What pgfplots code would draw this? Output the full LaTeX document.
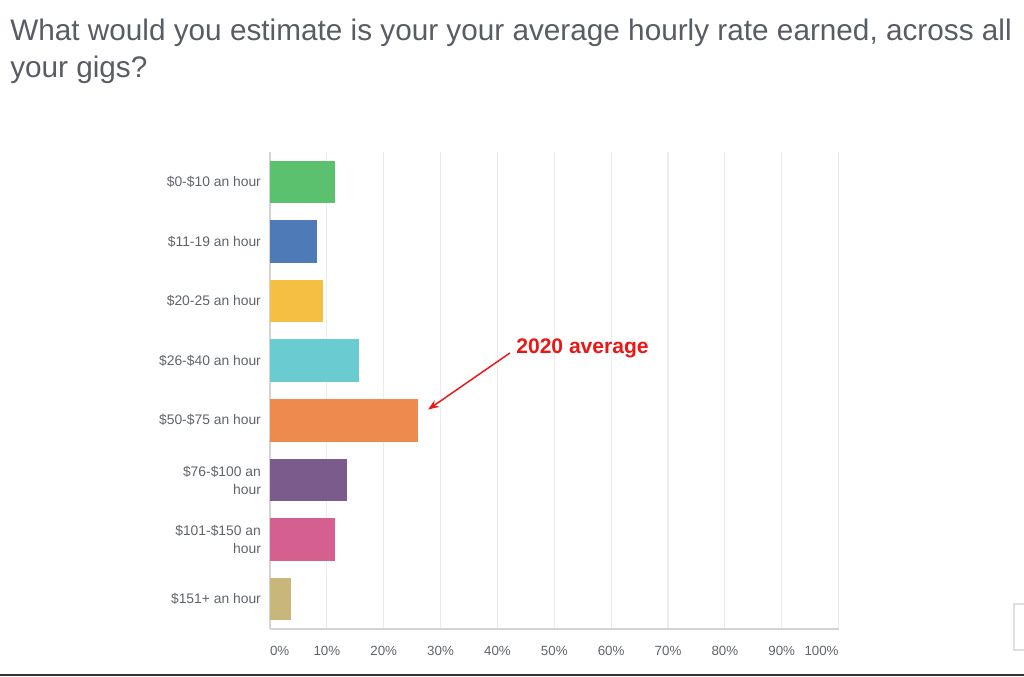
\documentclass[border=0pt]{standalone}
\usepackage{fontspec}
\setmainfont{Liberation Sans}
\usepackage{pgfplots}
\pgfplotsset{compat=1.18}
\usetikzlibrary{arrows.meta}
\definecolor{titlegray}{RGB}{88,93,100}
\definecolor{labgray}{RGB}{95,100,106}
\definecolor{gridgray}{RGB}{236,236,236}
\definecolor{axgray}{RGB}{212,212,212}
\definecolor{cgreen}{RGB}{92,193,110}
\definecolor{cblue}{RGB}{78,122,184}
\definecolor{cyellow}{RGB}{244,191,66}
\definecolor{cteal}{RGB}{106,204,208}
\definecolor{corange}{RGB}{239,138,78}
\definecolor{cpurple}{RGB}{123,90,140}
\definecolor{cpink}{RGB}{213,95,142}
\definecolor{ctan}{RGB}{200,183,122}
\definecolor{annred}{RGB}{236,22,22}
\begin{document}
\begin{tikzpicture}[x=0.75pt,y=-0.75pt]
\path[use as bounding box] (0,0) rectangle (1024,677);
\node[anchor=base west, inner sep=0, text=titlegray, font=\fontsize{22.3}{26}\selectfont] at (10,41) {What would you estimate is your your average hourly rate earned, across all};
\node[anchor=base west, inner sep=0, text=titlegray, font=\fontsize{22.3}{26}\selectfont] at (10,78) {your gigs?};
\begin{axis}[
  at={(202.5pt,-471.75pt)}, anchor=south west,
  scale only axis, width=426.45pt, height=357.75pt,
  xbar, bar shift=0pt, bar width=31.9pt,
  xmin=0, xmax=100, ymin=-0.5, ymax=7.5, y dir=reverse,
  xtick={0,10,...,100},
  xticklabels={\makebox[0pt][l]{0\%},10\%,20\%,30\%,40\%,50\%,60\%,70\%,80\%,90\%,\makebox[0pt][r]{100\%}},
  ytick={0,...,7},
  yticklabels={{\$0-\$10 an hour},{\$11-19 an hour},{\$20-25 an hour},{\$26-\$40 an hour},{\$50-\$75 an hour},{\$76-\$100 an\\hour},{\$101-\$150 an\\hour},{\$151+ an hour}},
  yticklabel style={align=right, xshift=-3.3pt, text=labgray, font=\fontsize{10.4}{13.5}\selectfont},
  xticklabel style={yshift=-9.5pt, text=labgray, font=\fontsize{10}{12}\selectfont},
  major tick length=0pt,
  xmajorgrids, grid style={gridgray, line width=0.8pt},
  axis x line*=bottom, axis y line*=left,
  axis line style={axgray, line width=0.9pt, -},
  every axis plot/.append style={draw=none},
]
\addplot[fill=cgreen] coordinates {(11.4,0)};
\addplot[fill=cblue] coordinates {(8.3,1)};
\addplot[fill=cyellow] coordinates {(9.3,2)};
\addplot[fill=cteal] coordinates {(15.6,3)};
\addplot[fill=corange] coordinates {(26.1,4)};
\addplot[fill=cpurple] coordinates {(13.5,5)};
\addplot[fill=cpink] coordinates {(11.4,6)};
\addplot[fill=ctan] coordinates {(3.7,7)};
\node[anchor=base, text=annred, font=\bfseries\fontsize{15.8}{17}\selectfont] at (axis cs:54.96,2.874) {2020 average};
\draw[annred, line width=1.1pt, -{Stealth[length=8pt,width=6pt]}] (axis cs:42.2,2.87) -- (axis cs:27.8,3.82);
\end{axis}
\draw[gray!25, line width=0.8pt] (1024,604) -- (1014,604) -- (1014,650) -- (1024,650);
\draw[black!80, line width=1.5pt] (0,675) -- (1024,675);
\end{tikzpicture}
\end{document}
